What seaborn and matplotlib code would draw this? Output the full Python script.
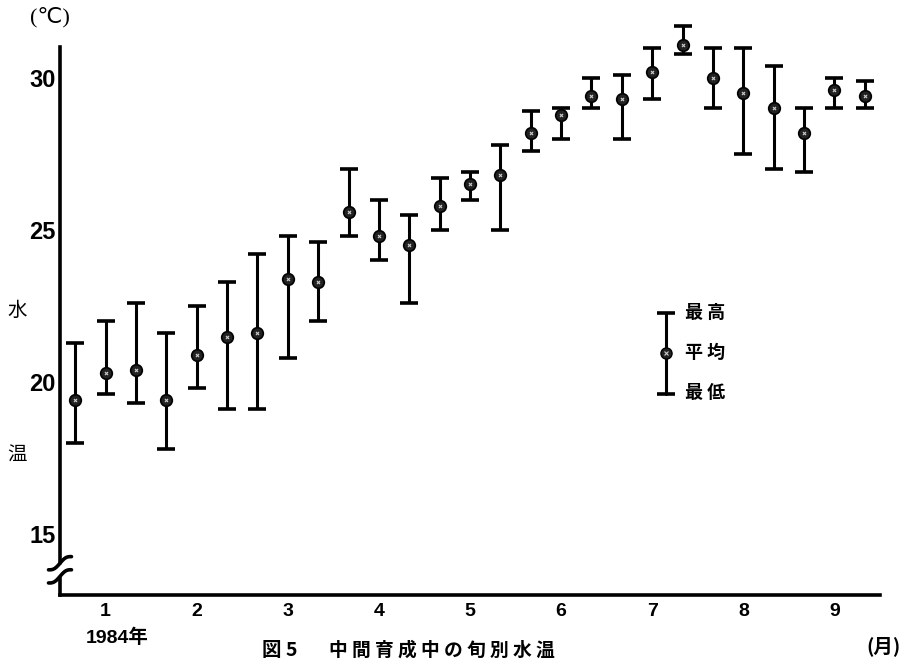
import numpy as np
import pandas as pd
import matplotlib
matplotlib.use('Agg')
import matplotlib.pyplot as plt
import seaborn as sns

# 旬別水温 (上旬・中旬・下旬) 1984年1月〜9月
months = ['1', '2', '3', '4', '5', '6', '7', '8', '9']
dekads = list(range(27))
t_max = [21.3, 22.0, 22.6, 21.6, 22.5, 23.3, 24.2, 24.8, 24.6,
         27.0, 26.0, 25.5, 26.7, 26.9, 27.8, 28.9, 29.0, 30.0,
         30.1, 31.0, 31.7, 31.0, 31.0, 30.4, 29.0, 30.0, 29.9]
t_mean = [19.4, 20.3, 20.4, 19.4, 20.9, 21.5, 21.6, 23.4, 23.3,
          25.6, 24.8, 24.5, 25.8, 26.5, 26.8, 28.2, 28.8, 29.4,
          29.3, 30.2, 31.1, 30.0, 29.5, 29.0, 28.2, 29.6, 29.4]
t_min = [18.0, 19.6, 19.3, 17.8, 19.8, 19.1, 19.1, 20.8, 22.0,
         24.8, 24.0, 22.6, 25.0, 26.0, 25.0, 27.6, 28.0, 29.0,
         28.0, 29.3, 30.8, 29.0, 27.5, 27.0, 26.9, 29.0, 29.0]

df = pd.DataFrame({'dekad': dekads, 'max': t_max, 'mean': t_mean, 'min': t_min})
df['x'] = df['dekad'] + 0.5

sns.set_style('white')
plt.rcParams['font.family'] = ['Noto Sans CJK JP', 'DejaVu Sans']
plt.rcParams['text.color'] = 'black'
plt.rcParams['xtick.color'] = 'black'
plt.rcParams['ytick.color'] = 'black'

fig = plt.figure(figsize=(9.09, 6.62), dpi=100)
ax = fig.add_axes([60 / 909, 1 - 595 / 662, 820 / 909, 548 / 662])

lw = 2.2
ax.errorbar(df['x'], df['mean'],
            yerr=[df['mean'] - df['min'], df['max'] - df['mean']],
            fmt='none', ecolor='black', elinewidth=lw, capsize=6.5, capthick=2.6,
            clip_on=False, zorder=2)
sns.scatterplot(data=df, x='x', y='mean', ax=ax, color='#222222', edgecolor='black',
                s=70, linewidth=1.2, zorder=3, clip_on=False)
ax.scatter(df['x'], df['mean'], s=5, color='#cccccc', marker='x', linewidth=0.8,
           zorder=4, clip_on=False)

ax.set_xlim(0, 27)
ax.set_ylim(13.0, 31.02)
ax.set_xlabel('')
ax.set_ylabel('')

for s in ['top', 'right']:
    ax.spines[s].set_visible(False)
for s in ['left', 'bottom']:
    ax.spines[s].set_linewidth(2.6)
    ax.spines[s].set_color('black')

ax.set_yticks([15, 20, 25, 30])
ax.set_yticklabels(['15', '20', '25', '30'], family='Liberation Sans',
                   fontsize=17, fontweight='bold', color='black')
ax.tick_params(axis='y', direction='in', length=11, width=2.4, pad=3)

ax.set_xticks(np.arange(3, 28, 3))
ax.set_xticks(np.arange(1.5, 27, 3), minor=True)
ax.set_xticklabels([])
ax.set_xticklabels(months, minor=True, family='Liberation Sans',
                   fontsize=14, fontweight='bold', color='black')
ax.tick_params(axis='x', which='major', direction='in', length=8, width=2.4)
ax.tick_params(axis='x', which='minor', length=0, pad=6)

# axis break
ax.plot([-0.01, 0.01], [0.035, 0.055], transform=ax.transAxes, color='white',
        lw=6, clip_on=False, zorder=5, solid_capstyle='butt')
tt = np.linspace(-1, 1, 30)
for dy in [0.034, 0.058]:
    ax.plot(0.014 * tt, dy + 0.012 * tt + 0.004 * np.sin(np.pi * tt),
            transform=ax.transAxes, color='black', lw=2.6, clip_on=False, zorder=6)

# legend key
lx = (666 - 60) / 820
ax.plot([lx, lx], [(595 - 394) / 548, (595 - 313) / 548], transform=ax.transAxes,
        color='black', lw=lw, clip_on=False)
for yy in [(595 - 394) / 548, (595 - 313) / 548]:
    ax.plot([lx], [yy], transform=ax.transAxes, marker='_', ms=13, mew=2.6,
            color='black', clip_on=False)
ax.plot([lx], [(595 - 353) / 548], transform=ax.transAxes, marker='o', ms=8,
        mfc='#222222', mec='black', clip_on=False)
ax.plot([lx], [(595 - 353) / 548], transform=ax.transAxes, marker='x', ms=2.5,
        mec='#cccccc', mew=0.8, clip_on=False)
for lab, py in [('最 高', 312), ('平 均', 352), ('最 低', 393)]:
    fig.text(685 / 909, 1 - py / 662, lab, fontsize=13, fontweight='bold',
             va='center', ha='left')

fig.text(50 / 909, 1 - 17 / 662, '(℃)', fontsize=16, ha='center', va='center',
         family=['Liberation Serif', 'DejaVu Sans'])
fig.text(17 / 909, 1 - 310 / 662, '水', fontsize=14, ha='center', va='center')
fig.text(17 / 909, 1 - 455 / 662, '温', fontsize=14, ha='center', va='center')
fig.text(86 / 909, 1 - 638 / 662, '1984年', fontsize=14, ha='left', va='center',
         family=['Liberation Sans', 'Noto Sans CJK JP'], fontweight='bold')
fig.text(262 / 909, 1 - 650 / 662, '図 5', fontsize=14, ha='left', va='center',
         fontweight='bold', family=['Noto Sans CJK JP', 'DejaVu Sans'])
fig.text(329 / 909, 1 - 650 / 662, '中 間 育 成 中 の 旬 別 水 温', fontsize=13.5,
         ha='left', va='center', fontweight='bold')
fig.text(883 / 909, 1 - 646 / 662, '(月)', fontsize=14, ha='center', va='center',
         fontweight='bold')

fig.savefig('out.png', dpi=100)
